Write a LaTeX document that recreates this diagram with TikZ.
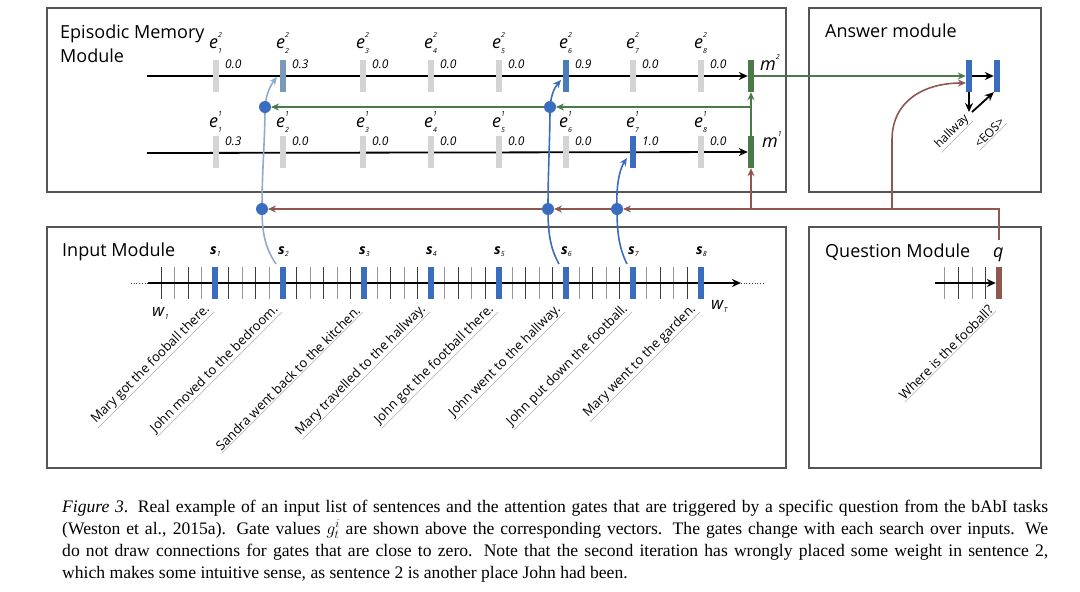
\documentclass[tikz,border=0pt]{standalone}
\usepackage{fontspec}
\setmainfont{Open Sans}
\newfontfamily\capfont{Liberation Serif}
\usetikzlibrary{arrows.meta,calc}
\definecolor{boxc}{RGB}{85,85,85}
\definecolor{bluec}{RGB}{58,108,192}
\definecolor{lbluec}{RGB}{140,172,204}
\definecolor{lbluebar}{RGB}{122,154,184}
\definecolor{mbluebar}{RGB}{72,125,185}
\definecolor{greenc}{RGB}{74,122,72}
\definecolor{brownc}{RGB}{142,88,80}
\definecolor{gbarc}{RGB}{212,212,212}
\definecolor{ulc}{RGB}{175,175,175}
\definecolor{tickd}{RGB}{60,60,60}
\definecolor{tickl}{RGB}{150,150,150}
\newcommand\elab[2]{\textit{e}\makebox[0pt][l]{\raisebox{1.05ex}{\fontsize{7}{7}\selectfont\itshape #1}}\raisebox{-0.55ex}{\fontsize{7}{7}\selectfont\itshape #2}}
\newcommand\mlab[1]{\textit{m}\raisebox{1.05ex}{\fontsize{7}{7}\selectfont\itshape #1}}
\newcommand\slab[1]{\textbf{\textit{s}}\raisebox{-0.35ex}{\fontsize{7}{7}\selectfont\itshape #1}}
\newcommand\wlab[1]{\textit{w}\raisebox{-0.35ex}{\fontsize{7}{7}\selectfont\itshape #1}}
\begin{document}
\begin{tikzpicture}[x=1pt,y=-1pt,
  box/.style={draw=boxc, line width=1.2pt},
  hd/.style={anchor=base west, inner sep=0pt, font=\fontsize{18}{21}\selectfont},
  gbar/.style={fill=#1, draw=none, minimum width=6pt, minimum height=32pt, inner sep=0pt},
  val/.style={anchor=base west, inner sep=0pt, font=\fontsize{12}{12}\selectfont\itshape},
  elabst/.style={anchor=base west, inner sep=0pt, font=\fontsize{18}{18}\selectfont},
  slabst/.style={anchor=base west, inner sep=0pt, font=\fontsize{14}{14}\selectfont},
  sent/.style={rotate=45, anchor=south east, inner sep=1pt, font=\fontsize{13}{13}\selectfont},
  uline/.style={draw=ulc, line width=0.5pt},
  blk/.style={draw=black, line width=1.8pt, -{Stealth[length=9pt,width=8pt]}},
  conn/.style={line width=1.6pt, -{Stealth[length=8pt,width=7pt]}},
  dot/.style={circle, fill=bluec, minimum size=12pt, inner sep=0pt},
  capline/.style={anchor=base west, inner sep=0pt, font=\capfont\fontsize{17.6}{17.6}\selectfont}]
\useasboundingbox (0,0) rectangle (1080,592);

% boxes
\draw[box] (47,8) rectangle (786,192);
\draw[box] (809,8) rectangle (1041,192);
\draw[box] (47,227) rectangle (786,468);
\draw[box] (809,227) rectangle (1041,468);

\node[hd] (hem) at (60,38) {Episodic Memory};
\node[hd] (hem2) at (60,62) {Module};
\node[hd] (hans) at (825,37) {Answer module};
\node[hd] (hin) at (62,256) {Input Module};
\node[hd] (hq) at (825,257) {Question Module};

% memory lines
\coordinate (l2s) at (147,76);
\coordinate (l1s) at (147,153);
\node[gbar=greenc] (m2) at (751,76) {};
\node[gbar=greenc] (m1) at (751,152) {};
\node[anchor=base west, inner sep=0pt, font=\fontsize{18}{18}\selectfont] (m2l) at (760,70) {\mlab{2}};
\node[anchor=base west, inner sep=0pt, font=\fontsize{18}{18}\selectfont] (m1l) at (762,147) {\mlab{1}};
\draw[blk] (l2s) -- (m2.west);
\draw[blk] (l1s) -- (m1.west);

\foreach \x/\v/\c [count=\i] in {216/0.0/gbarc,283/0.3/lbluebar,363/0.0/gbarc,431/0.0/gbarc,499/0.0/gbarc,566/0.9/mbluebar,633/0.0/gbarc,701/0.0/gbarc}{
  \node[gbar=\c] (eb2\i) at (\x,76) {};
  \node[elabst] (el2\i) at (\x-7,48) {\elab{2}{\i}};
  \node[val] (ev2\i) at (\x+9,68) {\v};
}
\foreach \x/\v/\c [count=\i] in {216/0.3/gbarc,283/0.0/gbarc,363/0.0/gbarc,431/0.0/gbarc,499/0.0/gbarc,566/0.0/gbarc,633/1.0/bluec,701/0.0/gbarc}{
  \node[gbar=\c] (eb1\i) at (\x,152) {};
  \node[elabst] (el1\i) at (\x-7,127) {\elab{1}{\i}};
  \node[val] (ev1\i) at (\x+9,145) {\v};
}

% input module
\coordinate (ins) at (148,283);
\coordinate (ine) at (741,283);
\coordinate (ind0) at (131,283);
\coordinate (ind1) at (763,283);
\draw[tickd, line width=0.7pt, dotted] (ind0) -- (ins);
\draw[tickd, line width=0.7pt, dotted] (ine) -- (ind1);
\foreach \x [count=\i] in {161.4,174.8,188.2,201.6,228.6,242.2,255.8,269.4,296.5,310,323.5,337,350.5,377.4,390.8,404.2,417.6,444.6,458.2,471.8,485.4,512.4,525.8,539.2,552.6,579.4,592.8,606.2,619.6,646.6,660.2,673.8,687.4}{
  \ifodd\i \def\tc{tickd}\else\def\tc{tickl}\fi
  \draw[\tc, line width=0.9pt] (\x,267) -- (\x,299);
}
\draw[blk] (ins) -- (ine);
\foreach \x [count=\i] in {215,283,364,431,499,566,633,701}{
  \node[gbar=bluec] (s\i) at (\x,283) {};
  \node[slabst] (sl\i) at (\x-5,254) {\slab{\i}};
}
\node[anchor=base west, inner sep=0pt, font=\fontsize{17}{17}\selectfont] (w1) at (152,316) {\wlab{1}};
\node[anchor=base west, inner sep=0pt, font=\fontsize{17}{17}\selectfont] (wT) at (711,309) {\wlab{T}};

\foreach \x/\t [count=\i] in {214/Mary got the fooball there.,282/John moved to the bedroom.,363/Sandra went back to the kitchen.,430/Mary travelled to the hallway.,498/John got the football there.,565/John went to the hallway.,632/John put down the football.,700/Mary went to the garden.}{
  \node[sent] (t\i) at (\x,312) {\t};
  \draw[uline] (t\i.south west) -- (t\i.south east);
}

% question module
\node[gbar=brownc] (q) at (999,283) {};
\node[anchor=base west, inner sep=0pt, font=\fontsize{18}{18}\selectfont] (ql) at (993,257) {\textit{q}};
\coordinate (qs) at (935,283);
\coordinate (qtop) at (999,240);
\foreach \x [count=\i] in {944,958,972,985}{
  \ifodd\i \def\tc{tickl}\else\def\tc{tickd}\fi
  \draw[\tc, line width=0.9pt] (\x,267) -- (\x,299);
}
\draw[blk] (qs) -- (q.west);
\node[sent] (tq) at (996,311) {Where is the fooball?};
\draw[uline] (tq.south west) -- (tq.south east);

% answer module
\node[gbar=bluec] (a1) at (969,76) {};
\node[gbar=bluec] (a2) at (997,76) {};
\coordinate (ahw) at (969,112);
\coordinate (ahw2) at (972,112);
\draw[blk] (a1.east) -- (a2.west);
\draw[blk] (a1.south) -- (ahw);
\draw[blk] (ahw2) -- (a2.south west);
\node[sent, font=\fontsize{12}{12}\selectfont] (th) at (973,121) {hallway};
\draw[uline] (th.south west) -- (th.south east);
\node[sent, font=\fontsize{12}{12}\selectfont] (te) at (1007,123) {<EOS>};
\draw[uline] (te.south west) -- (te.south east);

% dots positions
\coordinate (p2) at (262,209);
\coordinate (p6) at (548,209);
\coordinate (p7) at (617,209);
\coordinate (p2b) at (265,107);
\coordinate (p6b) at (550,107);

% blue connectors
\coordinate (f2) at (276,264);
\coordinate (f6) at (559,264);
\coordinate (f7) at (627,264);
\coordinate (t2) at (277,77);
\coordinate (t6) at (561,80);
\coordinate (t7) at (627,158);
\draw[conn, lbluec] (f2) .. controls (265,248) and (262,232) .. (p2) .. controls (262,170) and (265,140) .. (p2b) .. controls (266,95) and (270,86) .. (t2);
\draw[conn, bluec] (f6) .. controls (550,248) and (548,232) .. (p6) .. controls (548,170) and (550,140) .. (p6b) .. controls (551,96) and (554,88) .. (t6);
\draw[conn, bluec] (f7) .. controls (619,248) and (617,232) .. (p7) .. controls (616,188) and (619,170) .. (t7);

% brown connectors
\coordinate (bm) at (751,209);
\coordinate (ba) at (892,209);
\coordinate (ain) at (966,83);
\draw[conn, brownc] (qtop) |- ($(p7)+(6,0)$);
\draw[conn, brownc] ($(p7)+(-6,0)$) -- ($(p6)+(6,0)$);
\draw[conn, brownc] ($(p6)+(-6,0)$) -- ($(p2)+(6,0)$);
\draw[conn, brownc] (bm) -- (m1.south);
\draw[conn, brownc] (ba) -- (892,140) .. controls (892,100) and (925,83) .. (ain);

% green connectors
\coordinate (gs) at (751,107);
\draw[conn, greenc] (m1.north) -- (m2.south);
\draw[conn, greenc] (gs) -- ($(p6b)+(6,0)$);
\draw[conn, greenc] ($(p6b)+(-6,0)$) -- ($(p2b)+(6,0)$);
\draw[conn, greenc] (m2.east) -- (a1.west);

% dots
\node[dot] (c2) at (p2) {};
\node[dot] (c6) at (p6) {};
\node[dot] (c7) at (p7) {};
\node[dot] (c2b) at (p2b) {};
\node[dot] (c6b) at (p6b) {};

% caption
\node[capline] (cap1) at (62,512) {\makebox[986pt][s]{\textit{Figure 3}. Real example of an input list of sentences and the attention gates that are triggered by a specific question from the bAbI tasks}};
\node[capline] (cap2) at (62,534) {\makebox[986pt][s]{(Weston et al., 2015a). Gate values $g_t^i$ are shown above the corresponding vectors. The gates change with each search over inputs. We}};
\node[capline] (cap3) at (62,556) {\makebox[986pt][s]{do not draw connections for gates that are close to zero. Note that the second iteration has wrongly placed some weight in sentence 2,}};
\node[capline] (cap4) at (62,578) {which makes some intuitive sense, as sentence 2 is another place John had been.};
\end{tikzpicture}
\end{document}
